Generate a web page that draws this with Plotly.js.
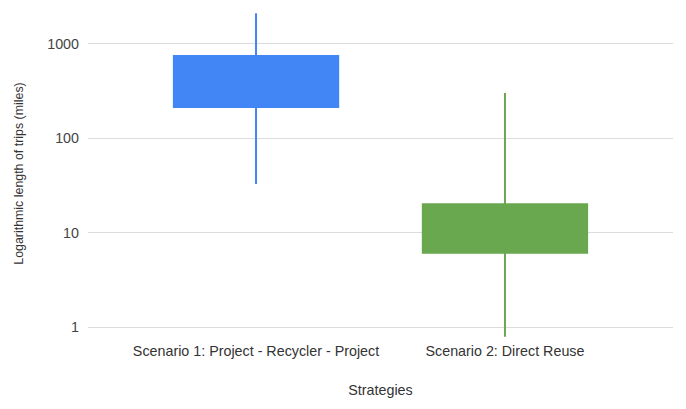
<!DOCTYPE html>
<html>
<head>
<meta charset="utf-8">
<script src="https://cdn.plot.ly/plotly-3.0.1.min.js"></script>
<style>
  html, body { margin: 0; padding: 0; background: #fff; }
  #chart { width: 686px; height: 409px; }
</style>
</head>
<body>
<div id="chart"></div>
<script>
// strategies and trip lengths (miles)
const strategies = ["Scenario 1: Project - Recycler - Project", "Scenario 2: Direct Reuse"];
const lowVals = [32.7, 0.79];
const openVals = [214, 20];
const closeVals = [745, 6.1];
const highVals = [2105, 301];
const yTicks = [1, 10, 100, 1000];

const trace = {
  type: "candlestick",
  x: strategies,
  open: openVals,
  high: highVals,
  low: lowVals,
  close: closeVals,
  whiskerwidth: 0,
  increasing: { fillcolor: "#4285f4", line: { color: "#4285f4", width: 2 } },
  decreasing: { fillcolor: "#6aa84f", line: { color: "#6aa84f", width: 2 } },
  hoverinfo: "skip",
  showlegend: false,
};

const layout = {
  width: 686,
  height: 409,
  margin: { l: 88, r: 13, t: 10, b: 72 },
  paper_bgcolor: "#fff",
  plot_bgcolor: "#fff",
  font: { family: "Arial, 'Liberation Sans', sans-serif", size: 14, color: "#444" },
  boxgap: 0.34,
  boxgroupgap: 0,
  xaxis: {
    type: "category",
    range: [-0.675, 1.675],
    rangeslider: { visible: false },
    showgrid: false,
    zeroline: false,
    showline: false,
    ticks: "",
    ticklabelstandoff: 4,
    tickfont: { size: 14.3, color: "#333" },
    title: { text: "Strategies", font: { size: 14.3, color: "#333" }, standoff: 26 },
  },
  yaxis: {
    type: "log",
    range: [-0.106, 3.3585],
    tickvals: yTicks,
    ticktext: yTicks.map(String),
    showgrid: true,
    gridcolor: "#dcdcdc",
    gridwidth: 1,
    zeroline: false,
    showline: false,
    ticks: "",
    ticklabelstandoff: 8,
    tickfont: { size: 14.3, color: "#444" },
    title: { text: "Logarithmic length of trips (miles)", font: { size: 12.4, color: "#333" }, standoff: 20 },
  },
};

Plotly.newPlot("chart", [trace], layout, { staticPlot: true, displayModeBar: false });
</script>
</body>
</html>
